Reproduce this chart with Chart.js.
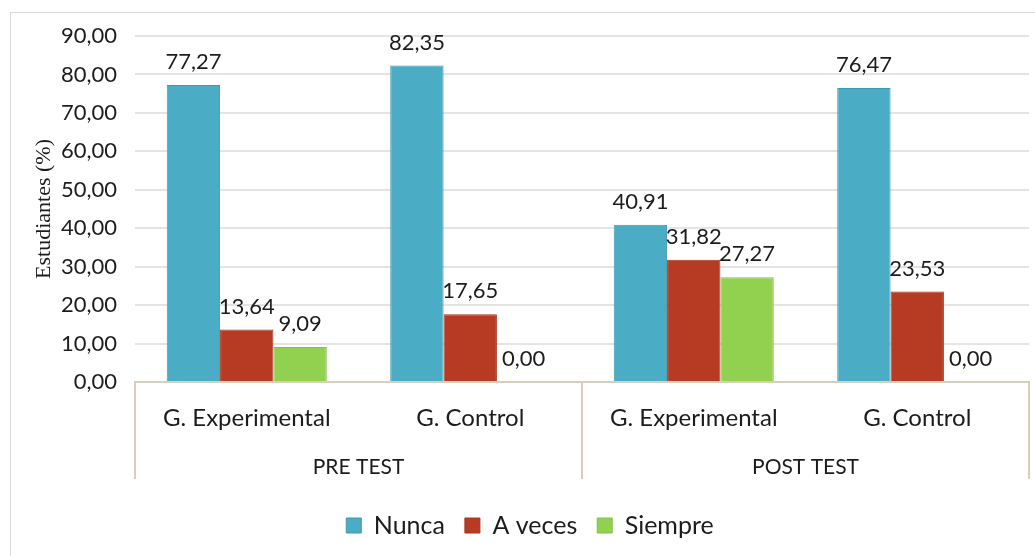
<!DOCTYPE html>
<html>
<head>
<meta charset="utf-8">
<script src="https://cdn.jsdelivr.net/npm/chart.js@4.4.0/dist/chart.umd.min.js"></script>
<style>
  html, body { margin: 0; padding: 0; background: #fff; }
  #wrap { position: relative; width: 1035px; height: 556px; overflow: hidden; }
  #frame { position: absolute; left: 10px; top: 12px; width: 1040px; height: 600px; border: 1px solid #d9d9d9; box-sizing: border-box; }
  canvas { position: absolute; left: 0; top: 0; }
</style>
</head>
<body>
<div id="wrap">
  <div id="frame"></div>
  <canvas id="myChart" width="1035" height="556"></canvas>
</div>
<script>
// chart values
var groups = ['PRE TEST', 'POST TEST'];
var categories = ['G. Experimental', 'G. Control', 'G. Experimental', 'G. Control'];
var nunca = [77.27, 82.35, 40.91, 76.47];
var aVeces = [13.64, 17.65, 31.82, 23.53];
var siempre = [9.09, 0.00, 27.27, 0.00];
var yMin = 0;
var yMax = 90;
var yStep = 10;

var textColor = '#1c1c1c';
var beige = '#D6CFB9';

function fmt(v) {
  return Number(v).toFixed(2).replace('.', ',');
}

// value labels above every bar
var valueLabels = {
  id: 'valueLabels',
  afterDatasetsDraw: function(chart) {
    var ctx = chart.ctx;
    ctx.save();
    ctx.font = '22px Lato';
    ctx.fillStyle = textColor;
    ctx.textAlign = 'center';
    ctx.textBaseline = 'middle';
    chart.data.datasets.forEach(function(ds, i) {
      var meta = chart.getDatasetMeta(i);
      meta.data.forEach(function(bar, j) {
        ctx.fillText(fmt(ds.data[j]), bar.x, bar.y - 23);
      });
    });
    ctx.restore();
  }
};

// separators of the two-level category axis
var groupLines = {
  id: 'groupLines',
  afterDraw: function(chart) {
    var x = chart.scales.x;
    var x2 = chart.scales.x2;
    var ctx = chart.ctx;
    var mid = (x.getPixelForValue(1) + x.getPixelForValue(2)) / 2;
    var top = chart.chartArea.bottom;
    var bottom = x2.bottom - 14;
    ctx.save();
    ctx.strokeStyle = beige;
    ctx.lineWidth = 2;
    [x.left, mid, x.right].forEach(function(px) {
      ctx.beginPath();
      ctx.moveTo(px, top);
      ctx.lineTo(px, bottom);
      ctx.stroke();
    });
    ctx.restore();
  }
};

var ctx = document.getElementById('myChart').getContext('2d');
var chart = new Chart(ctx, {
  type: 'bar',
  data: {
    labels: categories,
    datasets: [
      {
        label: 'Nunca',
        data: nunca,
        backgroundColor: '#4BACC6',
        borderColor: '#3F97B0',
        borderWidth: 1,
      },
      {
        label: 'A veces',
        data: aVeces,
        backgroundColor: '#B73B22',
        borderColor: '#A8341D',
        borderWidth: 1,
      },
      {
        label: 'Siempre',
        data: siempre,
        backgroundColor: '#92D050',
        borderColor: '#86BF49',
        borderWidth: 1,
      },
    ],
  },
  options: {
    responsive: false,
    animation: false,
    categoryPercentage: 0.716,
    barPercentage: 1.0,
    layout: {
      padding: { left: 31, right: 6, top: 36, bottom: 8 },
    },
    scales: {
      x: {
        type: 'category',
        grid: { display: false },
        border: { display: true, color: beige, width: 2 },
        ticks: {
          padding: 14,
          maxRotation: 0,
          autoSkip: false,
          color: textColor,
          font: { family: 'Lato', size: 24 },
        },
        afterFit: function(s) { s.height = 50; },
      },
      x2: {
        type: 'category',
        labels: groups,
        position: 'bottom',
        weight: 1,
        offset: true,
        grid: { display: false, offset: true },
        border: { display: false },
        ticks: {
          padding: 15,
          maxRotation: 0,
          color: textColor,
          font: { family: 'Lato', size: 21 },
        },
        afterFit: function(s) { s.height = 61; },
      },
      y: {
        min: yMin,
        max: yMax,
        ticks: {
          stepSize: yStep,
          padding: 18,
          color: textColor,
          font: { family: 'Lato', size: 22 },
          callback: function(v) { return fmt(v); },
        },
        grid: { color: '#E4E4E4', lineWidth: 2, drawTicks: false },
        border: { display: false },
        title: {
          display: true,
          text: 'Estudiantes (%)',
          color: textColor,
          padding: 0,
          font: { family: 'Liberation Serif', size: 22 },
        },
        afterFit: function(s) { s.width = 104; },
      },
    },
    plugins: {
      tooltip: { enabled: false },
      legend: {
        position: 'bottom',
        labels: {
          boxWidth: 15,
          boxHeight: 15,
          padding: 20,
          color: textColor,
          font: { family: 'Lato', size: 25 },
        },
      },
    },
  },
  plugins: [valueLabels, groupLines],
});
</script>
</body>
</html>
